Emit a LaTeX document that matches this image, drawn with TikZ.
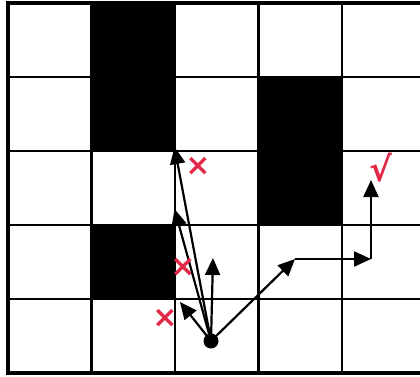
\documentclass[tikz,border=0pt]{standalone}
\usepackage{fontspec}
\newfontfamily\markfont{DejaVu Sans}
\usetikzlibrary{arrows.meta}
\definecolor{markred}{RGB}{225,40,70}
\tikzset{
  move/.style={line width=2.2pt, -{Triangle[length=17pt,width=15pt]}},
  redmark/.style={text=markred, font=\markfont\bfseries\fontsize{30}{30}\selectfont, inner sep=0pt}
}
\begin{document}
\begin{tikzpicture}[x=1pt,y=-1pt]
  \useasboundingbox (0,0) rectangle (420,376);
  \clip (0,0) rectangle (420,376);
  % Blocked cells
  \fill[black] (91.5,3) rectangle (175,151);
  \fill[black] (258.5,77) rectangle (342,225);
  \fill[black] (91.5,225) rectangle (175,299);
  % Grid
  \foreach \x in {91.5,175,258.5,342}
    \draw[line width=2.2pt] (\x,3) -- (\x,373);
  \foreach \y in {77,151,225,299}
    \draw[line width=2.2pt] (8,\y) -- (430,\y);
  \draw[line width=4pt] (430,3) -- (8,3) -- (8,373) -- (430,373);
  % Coordinates
  \coordinate (A) at (180,302);
  \coordinate (B) at (174.5,209);
  \coordinate (C) at (213,258);
  \coordinate (D) at (174.5,147);
  \coordinate (E) at (295,259);
  \coordinate (F) at (371,259);
  \coordinate (G) at (371,180);
  % Start
  \node[circle, fill=black, inner sep=0pt, minimum size=15pt] (S) at (211,341) {};
  % Moves
  \draw[move] (S.center) -- (A);
  \draw[move] (S.center) -- (B);
  \draw[move] (S.center) -- (C);
  \draw[move] (S.center) -- (D);
  \draw[move] (S.center) -- (E);
  \draw[move] (E) -- (F);
  \draw[move] (F) -- (G);
  % Marks
  \node[redmark] (m1) at (198,166) {×};
  \node[redmark] (m2) at (183,267) {×};
  \node[redmark] (m3) at (165,318) {×};
  \node[redmark, font=\markfont\bfseries\fontsize{34}{34}\selectfont] (ok) at (381,168) {√};
\end{tikzpicture}
\end{document}
